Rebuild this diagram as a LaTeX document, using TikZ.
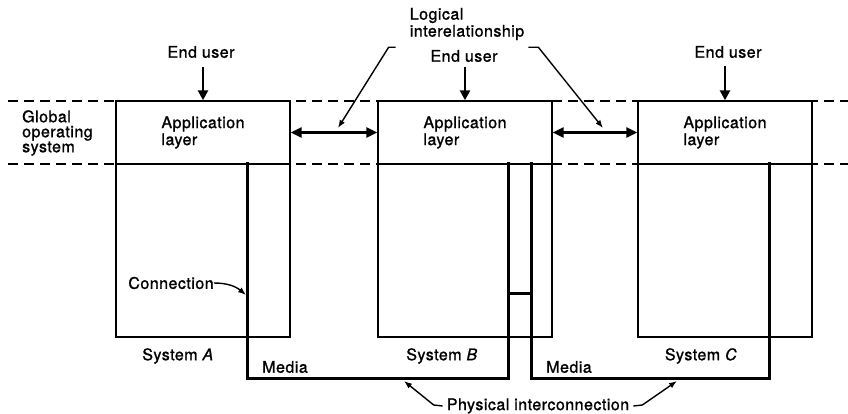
\documentclass[tikz,border=0pt]{standalone}
\usepackage{fontspec}
\setmainfont{TeX Gyre Heros}[LetterSpace=3, FakeBold=1.2]
\usetikzlibrary{arrows.meta,calc}

\begin{document}
\begin{tikzpicture}[x=1pt,y=-1pt,
  every node/.style={font=\fontsize{16}{17}\selectfont, inner sep=0pt},
  box/.style={draw, line width=1.4pt, minimum width=174pt},
  appbox/.style={box, minimum height=63pt, align=left},
  sysbox/.style={box, minimum height=173pt},
  label/.style={align=left},
  layerline/.style={line width=1.3pt, dash pattern=on 10pt off 6pt},
  wire/.style={line width=3pt, line cap=rect},
  userarrow/.style={line width=2.6pt, -{Triangle[length=10pt,width=10pt]}},
  peer/.style={line width=2.8pt, {Triangle[length=11pt,width=10pt]}-{Triangle[length=11pt,width=10pt]}},
  leader/.style={line width=1.4pt, -{Latex[length=8pt,width=6pt]}}
]
\useasboundingbox (0,0) rectangle (848,414);

% global operating system band
\draw[layerline] (8,101) -- (848,101);
\draw[layerline] (8,164) -- (848,164);
\node[label, font=\fontsize{16}{15}\selectfont, anchor=west] (gos) at (22,133)
  {Global\\operating\\system};

% three systems: application layer on top of the system box
\node[sysbox, fill=white] (sysA) at (203,250.5) {};
\node[sysbox, fill=white] (sysB) at (465,250.5) {};
\node[sysbox, fill=white] (sysC) at (725,250.5) {};
\node[appbox, fill=white] (appA) at (203,132.5) {Application\\layer};
\node[appbox, fill=white] (appB) at (465,132.5) {Application\\layer};
\node[appbox, fill=white] (appC) at (725,132.5) {Application\\layer};

% end users
\node (euA) at (201,52) {End user};
\node (euB) at (464,56) {End user};
\node (euC) at (728,52) {End user};
\draw[userarrow] ([yshift=-9pt]euA.south -| appA.north) -- (appA.north);
\draw[userarrow] ([yshift=-5pt]euB.south -| appB.north) -- (appB.north);
\draw[userarrow] ([yshift=-8pt]euC.south -| appC.north) -- (appC.north);

% logical interrelationship between application layers
\draw[peer] (appA.east) -- (appB.west);
\draw[peer] (appB.east) -- (appC.west);
\node[label] (logic) at (467,24) {Logical\\interelationship};
\coordinate (peerAB) at (338,128);
\coordinate (peerBC) at (603,128);
\draw[leader] ([xshift=-14pt,yshift=-7pt]logic.south west) -- ++(-7,0) -- (peerAB);
\draw[leader] ([xshift=4pt,yshift=-7pt]logic.south east) -- ++(10,0) -- (peerBC);

% physical connections and media
\coordinate (cA) at (247,164);
\coordinate (cB1) at (508,164);
\coordinate (cB2) at (531,164);
\coordinate (cC) at (769,164);
\coordinate (mAB) at (247,378);
\coordinate (mBC) at (769,378);
\draw[wire] (cA) -- (mAB) -- (mAB -| cB1) -- (cB1);
\draw[wire] (cB2) -- (mBC -| cB2) -- (mBC) -- (cC);
\draw[wire] (508,293) -- (531,293);

% labels
\node (conn) at (171,283) {Connection};
\coordinate (connTip) at (246,295);
\draw[leader] (conn.east) to[out=0,in=140] (connTip);

\node (labA) at (178,356) {System \textit{A}};
\node (labB) at (442,356) {System \textit{B}};
\node (labC) at (701,356) {System \textit{C}};
\node (mediaA) at (285,367) {Media};
\node (mediaB) at (569,367) {Media};

\node (phys) at (538,406) {Physical interconnection};
\coordinate (physL) at (404,381);
\coordinate (physR) at (677,381);
\draw[leader] ([xshift=-4pt]phys.west) -- ++(-9,-1) -- (physL);
\draw[leader] ([xshift=4pt]phys.east) -- ++(9,-1) -- (physR);
\end{tikzpicture}
\end{document}
